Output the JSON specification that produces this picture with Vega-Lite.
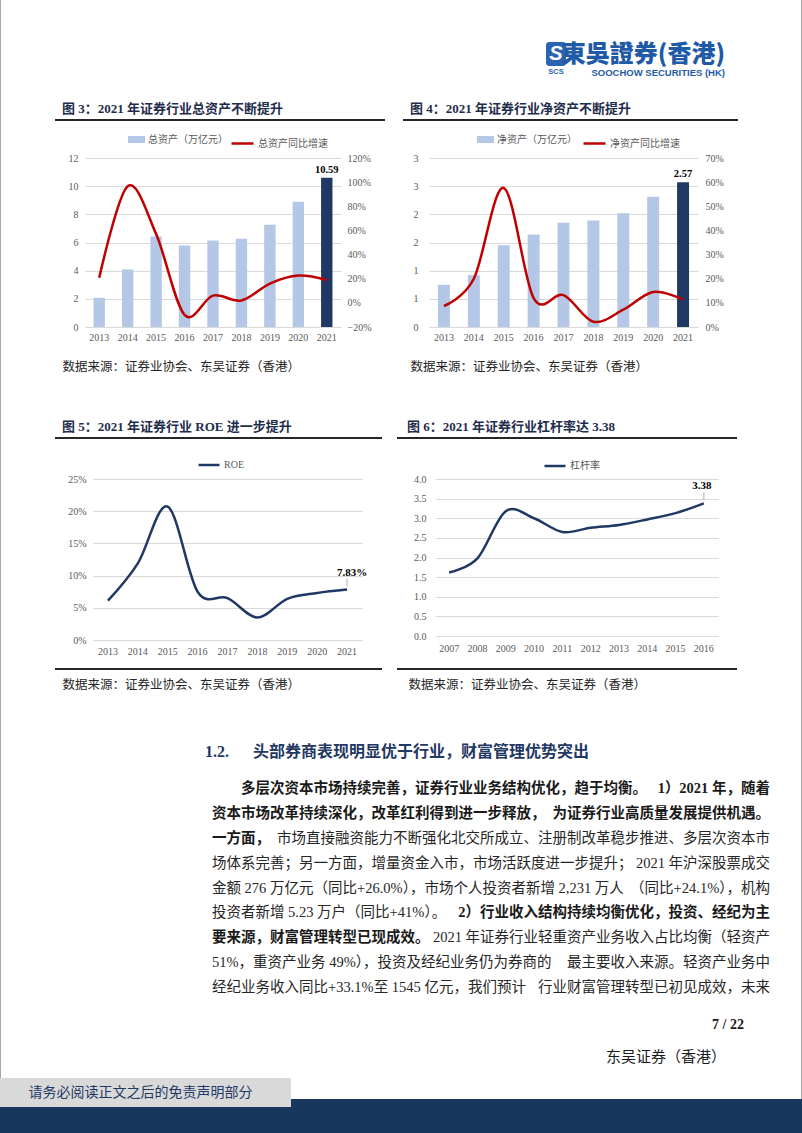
{
  "$schema": "https://vega.github.io/schema/vega-lite/v6.json",
  "background": "white",
  "padding": 0,
  "autosize": {"type": "pad"},
  "bounds": "flush",
  "spacing": 0,
  "resolve": {"scale": {"fill": "independent", "stroke": "independent"}, "legend": {"fill": "independent", "stroke": "independent"}},
  "config": {
    "view": {"stroke": null},
    "font": "Liberation Serif, Noto Sans CJK SC",
    "axis": {"labelFont": "Liberation Serif", "labelFontSize": 10, "labelColor": "#595959", "labelOverlap": false, "ticks": false, "domain": false, "gridColor": "#d9d9d9", "gridWidth": 1, "titleFont": "Liberation Serif, Noto Sans CJK SC", "titleFontWeight": "normal", "titleColor": "#262626", "titleFontSize": 12.5},
    "legend": {"labelFont": "Liberation Serif, Noto Sans CJK SC", "labelFontSize": 10, "labelColor": "#595959", "labelOffset": 3},
    "title": {"font": "Liberation Serif, Noto Sans CJK SC", "fontSize": 13, "fontWeight": "bold", "color": "#1f2d4d", "anchor": "start", "frame": "group"}
  },
  "vconcat": [
    {
      "hconcat": [
        {"width": 1, "height": 1133, "view": {"fill": "#a6a6a6", "stroke": null}, "data": {"values": []}, "mark": "point"},
        {"width": 545, "height": 119, "data": {"values": []}, "mark": "point"},
        {
          "vconcat": [
            {"width": 20, "height": 42, "data": {"values": []}, "mark": "point"},
            {"width": 20, "height": 24, "view": {"fill": "#2b63b0", "cornerRadius": 3, "stroke": null}, "data": {"values": [{"t": "S"}]}, "mark": {"type": "text", "color": "white", "fontSize": 20, "fontWeight": "bold", "fontStyle": "italic", "font": "Liberation Sans"}, "encoding": {"text": {"field": "t"}}, "title": {"text": "SCS", "orient": "bottom", "anchor": "middle", "offset": 2, "fontSize": 7.5, "fontWeight": "bold", "color": "#2b63b0", "font": "Liberation Sans"}}
          ],
          "spacing": 0, "bounds": "flush"
        },
        {"width": 21, "height": 1, "data": {"values": []}, "mark": "point"},
        {"width": 158, "height": 119, "data": {"values": []}, "mark": "point", "title": {"text": "東吳證券(香港)", "subtitle": "SOOCHOW SECURITIES (HK)", "anchor": "end", "orient": "top", "offset": -77, "font": "Noto Sans CJK TC", "fontSize": 24, "fontWeight": 900, "color": "#1f5aa6", "subtitleFont": "Liberation Sans", "subtitleFontSize": 9.5, "subtitleFontWeight": "bold", "subtitleColor": "#1f5aa6", "subtitlePadding": 1}},
        {"width": 76, "height": 1, "data": {"values": []}, "mark": "point"},
        {"width": 1, "height": 1133, "view": {"fill": "#a6a6a6", "stroke": null}, "data": {"values": []}, "mark": "point"}
      ],
      "spacing": 0, "bounds": "flush"
    },
    {"width": 1, "height": 119, "data": {"values": []}, "mark": "point"},
    {
      "hconcat": [
        {"width": 55, "height": 2, "data": {"values": []}, "mark": "point"},
        {"width": 330, "height": 2, "view": {"fill": "#262626", "stroke": null}, "data": {"values": []}, "mark": "point", "title": {"text": "图 3：2021 年证券行业总资产不断提升", "dx": 7, "offset": 3}},
        {"width": 18, "height": 2, "data": {"values": []}, "mark": "point"},
        {"width": 335, "height": 2, "view": {"fill": "#262626", "stroke": null}, "data": {"values": []}, "mark": "point", "title": {"text": "图 4：2021 年证券行业净资产不断提升", "dx": 7, "offset": 3}}
      ],
      "spacing": 0, "bounds": "flush"
    },
    {"width": 1, "height": 39, "data": {"values": []}, "mark": "point"},
    {
      "hconcat": [
        {"width": 85, "height": 1, "data": {"values": []}, "mark": "point"},
        {
          "width": 256, "height": 169,
          "data": {"values": [
            {"year": "2013", "assets": 2.08, "growth": 0.208},
            {"year": "2014", "assets": 4.09, "growth": 0.966},
            {"year": "2015", "assets": 6.42, "growth": 0.57},
            {"year": "2016", "assets": 5.79, "growth": -0.1},
            {"year": "2017", "assets": 6.14, "growth": 0.06},
            {"year": "2018", "assets": 6.26, "growth": 0.02},
            {"year": "2019", "assets": 7.26, "growth": 0.16},
            {"year": "2020", "assets": 8.9, "growth": 0.226},
            {"year": "2021", "assets": 10.59, "growth": 0.19}
          ]},
          "encoding": {
            "x": {"field": "year", "type": "ordinal", "scale": {"paddingInner": 0.6, "paddingOuter": 0.3}, "axis": {"labelAngle": 0, "domain": true, "domainColor": "#d9d9d9", "labelPadding": 5, "title": "数据来源：证券业协会、东吴证券（香港）", "titleX": -23, "titleY": 39, "titleAlign": "left", "titleBaseline": "middle"}}
          },
          "layer": [
            {
              "layer": [
                {"mark": {"type": "bar"}, "encoding": {
                  "y": {"field": "assets", "type": "quantitative", "scale": {"domain": [0, 12]}, "axis": {"values": [0, 2, 4, 6, 8, 10, 12], "tickCount": 7, "grid": true, "labelPadding": 7, "title": null}},
                  "fill": {"condition": {"test": "datum.year === '2021'", "value": "#1f3864"}, "datum": "总资产（万亿元）", "type": "nominal", "scale": {"range": ["#b4c7e7"]}, "legend": {"orient": "none", "legendX": 43, "legendY": -27, "title": null, "symbolType": "M-1,-0.41H1V0.41H-1Z", "symbolSize": 289, "symbolStrokeWidth": 0}}
                }},
                {"transform": [{"filter": "datum.year === '2021'"}], "mark": {"type": "text", "dy": -8, "fontSize": 10.5, "fontWeight": "bold", "color": "#000000", "font": "Liberation Serif"}, "encoding": {
                  "y": {"field": "assets", "type": "quantitative", "scale": {"domain": [0, 12]}, "axis": {"values": [0, 2, 4, 6, 8, 10, 12], "tickCount": 7, "grid": true, "labelPadding": 7, "title": null}},
                  "text": {"field": "assets", "type": "quantitative", "format": ".2f"}
                }}
              ]
            },
            {"mark": {"type": "line", "interpolate": "cardinal", "strokeWidth": 2.5}, "encoding": {
              "y": {"field": "growth", "type": "quantitative", "scale": {"domain": [-0.2, 1.2]}, "axis": {"orient": "right", "format": ".0%", "values": [-0.2, 0, 0.2, 0.4, 0.6, 0.8, 1, 1.2], "grid": false, "labelPadding": 6, "title": null}},
              "stroke": {"datum": "总资产同比增速", "type": "nominal", "scale": {"range": ["#c00000"]}, "legend": {"orient": "none", "legendX": 145, "legendY": -27, "title": null, "symbolType": "stroke", "symbolSize": 484, "symbolStrokeWidth": 2.5}}
            }}
          ],
          "resolve": {"scale": {"y": "independent"}}
        },
        {"width": 88, "height": 1, "data": {"values": []}, "mark": "point"},
        {
          "width": 269, "height": 169,
          "data": {"values": [
            {"year": "2013", "net": 0.75, "growth": 0.087},
            {"year": "2014", "net": 0.92, "growth": 0.2},
            {"year": "2015", "net": 1.45, "growth": 0.576},
            {"year": "2016", "net": 1.64, "growth": 0.12},
            {"year": "2017", "net": 1.85, "growth": 0.132},
            {"year": "2018", "net": 1.89, "growth": 0.022},
            {"year": "2019", "net": 2.02, "growth": 0.072},
            {"year": "2020", "net": 2.31, "growth": 0.145},
            {"year": "2021", "net": 2.57, "growth": 0.114}
          ]},
          "encoding": {
            "x": {"field": "year", "type": "ordinal", "scale": {"paddingInner": 0.6, "paddingOuter": 0.3}, "axis": {"labelAngle": 0, "domain": true, "domainColor": "#d9d9d9", "labelPadding": 5, "title": "数据来源：证券业协会、东吴证券（香港）", "titleX": -19, "titleY": 39, "titleAlign": "left", "titleBaseline": "middle"}}
          },
          "layer": [
            {
              "layer": [
                {"mark": {"type": "bar"}, "encoding": {
                  "y": {"field": "net", "type": "quantitative", "scale": {"domain": [0, 3]}, "axis": {"values": [0, 0.5, 1, 1.5, 2, 2.5, 3], "tickCount": 7, "format": ".0f", "grid": true, "labelPadding": 11, "title": null}},
                  "fill": {"condition": {"test": "datum.year === '2021'", "value": "#1f3864"}, "datum": "净资产（万亿元）", "type": "nominal", "scale": {"range": ["#b4c7e7"]}, "legend": {"orient": "none", "legendX": 48, "legendY": -27, "title": null, "symbolType": "M-1,-0.41H1V0.41H-1Z", "symbolSize": 289, "symbolStrokeWidth": 0}}
                }},
                {"transform": [{"filter": "datum.year === '2021'"}], "mark": {"type": "text", "dy": -8, "fontSize": 10.5, "fontWeight": "bold", "color": "#000000", "font": "Liberation Serif"}, "encoding": {
                  "y": {"field": "net", "type": "quantitative", "scale": {"domain": [0, 3]}, "axis": {"values": [0, 0.5, 1, 1.5, 2, 2.5, 3], "tickCount": 7, "format": ".0f", "grid": true, "labelPadding": 11, "title": null}},
                  "text": {"field": "net", "type": "quantitative", "format": ".2f"}
                }}
              ]
            },
            {"mark": {"type": "line", "interpolate": "cardinal", "strokeWidth": 2.5}, "encoding": {
              "y": {"field": "growth", "type": "quantitative", "scale": {"domain": [0, 0.7]}, "axis": {"orient": "right", "format": ".0%", "values": [0, 0.1, 0.2, 0.3, 0.4, 0.5, 0.6, 0.7], "grid": false, "labelPadding": 7, "title": null}},
              "stroke": {"datum": "净资产同比增速", "type": "nominal", "scale": {"range": ["#c00000"]}, "legend": {"orient": "none", "legendX": 153, "legendY": -27, "title": null, "symbolType": "stroke", "symbolSize": 484, "symbolStrokeWidth": 2.5}}
            }}
          ],
          "resolve": {"scale": {"y": "independent"}}
        }
      ],
      "spacing": 0, "bounds": "flush",
      "resolve": {"scale": {"fill": "independent", "stroke": "independent"}, "legend": {"fill": "independent", "stroke": "independent"}}
    },
    {"width": 1, "height": 279, "data": {"values": []}, "mark": "point"},
    {
      "hconcat": [
        {"width": 55, "height": 2, "data": {"values": []}, "mark": "point"},
        {"width": 327, "height": 2, "view": {"fill": "#262626", "stroke": null}, "data": {"values": []}, "mark": "point", "title": {"text": "图 5：2021 年证券行业 ROE 进一步提升", "dx": 7, "offset": 3}},
        {"width": 15, "height": 2, "data": {"values": []}, "mark": "point"},
        {"width": 340, "height": 2, "view": {"fill": "#262626", "stroke": null}, "data": {"values": []}, "mark": "point", "title": {"text": "图 6：2021 年证券行业杠杆率达 3.38", "dx": 10, "offset": 3}}
      ],
      "spacing": 0, "bounds": "flush"
    },
    {"width": 1, "height": 42, "data": {"values": []}, "mark": "point"},
    {
      "hconcat": [
        {"width": 93, "height": 1, "data": {"values": []}, "mark": "point"},
        {
          "width": 269, "height": 161,
          "data": {"values": [
            {"year": "2013", "roe": 0.061},
            {"year": "2014", "roe": 0.119},
            {"year": "2015", "roe": 0.207},
            {"year": "2016", "roe": 0.075},
            {"year": "2017", "roe": 0.065},
            {"year": "2018", "roe": 0.035},
            {"year": "2019", "roe": 0.064},
            {"year": "2020", "roe": 0.073},
            {"year": "2021", "roe": 0.0783}
          ]},
          "encoding": {
            "x": {"field": "year", "type": "ordinal", "axis": {"labelAngle": 0, "labelPadding": 6, "title": "数据来源：证券业协会、东吴证券（香港）", "titleX": -31, "titleY": 44, "titleAlign": "left", "titleBaseline": "middle"}},
            "y": {"field": "roe", "type": "quantitative", "scale": {"domain": [0, 0.25]}, "axis": {"format": ".0%", "values": [0, 0.05, 0.1, 0.15, 0.2, 0.25], "grid": true, "labelPadding": 7, "title": null}}
          },
          "layer": [
            {"mark": {"type": "line", "interpolate": "cardinal", "strokeWidth": 2.5}, "encoding": {
              "stroke": {"datum": "ROE", "type": "nominal", "scale": {"range": ["#1f3864"]}, "legend": {"orient": "none", "legendX": 104, "legendY": -26, "title": null, "symbolType": "stroke", "symbolSize": 441, "symbolStrokeWidth": 2.5}}
            }},
            {"transform": [{"filter": "datum.year === '2021'"}], "mark": {"type": "tick", "orient": "vertical", "size": 8, "thickness": 1, "color": "#8c8c8c", "yOffset": -7}, "encoding": {}},
            {"transform": [{"filter": "datum.year === '2021'"}], "mark": {"type": "text", "dy": -17, "dx": 5, "fontSize": 11, "fontWeight": "bold", "color": "#000000", "font": "Liberation Serif"}, "encoding": {
              "text": {"field": "roe", "type": "quantitative", "format": ".2%"}
            }}
          ]
        },
        {"width": 73, "height": 1, "data": {"values": []}, "mark": "point"},
        {
          "width": 283, "height": 157,
          "data": {"values": [
            {"year": "2007", "lev": 1.62},
            {"year": "2008", "lev": 1.98},
            {"year": "2009", "lev": 3.18},
            {"year": "2010", "lev": 3.0},
            {"year": "2011", "lev": 2.65},
            {"year": "2012", "lev": 2.76},
            {"year": "2013", "lev": 2.83},
            {"year": "2014", "lev": 2.97},
            {"year": "2015", "lev": 3.13},
            {"year": "2016", "lev": 3.38}
          ]},
          "encoding": {
            "x": {"field": "year", "type": "ordinal", "axis": {"labelAngle": 0, "labelPadding": 7, "title": "数据来源：证券业协会、东吴证券（香港）", "titleX": -27, "titleY": 48, "titleAlign": "left", "titleBaseline": "middle"}},
            "y": {"field": "lev", "type": "quantitative", "scale": {"domain": [0, 4]}, "axis": {"format": ".1f", "values": [0, 0.5, 1, 1.5, 2, 2.5, 3, 3.5, 4], "grid": true, "labelPadding": 9, "title": null}}
          },
          "layer": [
            {"mark": {"type": "line", "interpolate": "cardinal", "strokeWidth": 2.5}, "encoding": {
              "stroke": {"datum": "杠杆率", "type": "nominal", "scale": {"range": ["#1f3864"]}, "legend": {"orient": "none", "legendX": 108, "legendY": -25, "title": null, "symbolType": "stroke", "symbolSize": 441, "symbolStrokeWidth": 2.5}}
            }},
            {"transform": [{"filter": "datum.year === '2016'"}], "mark": {"type": "tick", "orient": "vertical", "size": 8, "thickness": 1, "color": "#8c8c8c", "yOffset": -7}, "encoding": {}},
            {"transform": [{"filter": "datum.year === '2016'"}], "mark": {"type": "text", "dy": -17, "dx": -2, "fontSize": 11, "fontWeight": "bold", "color": "#000000", "font": "Liberation Serif"}, "encoding": {
              "text": {"field": "lev", "type": "quantitative", "format": ".2f"}
            }}
          ]
        }
      ],
      "spacing": 0, "bounds": "flush",
      "resolve": {"scale": {"fill": "independent", "stroke": "independent"}, "legend": {"fill": "independent", "stroke": "independent"}}
    },
    {"width": 1, "height": 189, "data": {"values": []}, "mark": "point"},
    {
      "hconcat": [
        {"width": 55, "height": 2, "data": {"values": []}, "mark": "point"},
        {"width": 327, "height": 2, "view": {"fill": "#262626", "stroke": null}, "data": {"values": []}, "mark": "point"},
        {"width": 15, "height": 2, "data": {"values": []}, "mark": "point"},
        {"width": 340, "height": 2, "view": {"fill": "#262626", "stroke": null}, "data": {"values": []}, "mark": "point"}
      ],
      "spacing": 0, "bounds": "flush"
    },
    {"width": 1, "height": 109, "data": {"values": []}, "mark": "point"},
    {
      "hconcat": [
        {"width": 212, "height": 1, "data": {"values": []}, "mark": "point"},
        {
          "width": 558, "height": 223,
          "title": {"text": "1.2.\u3000\u2002头部券商表现明显优于行业，财富管理优势突出", "dx": -7, "offset": 17, "fontSize": 16, "fontWeight": "bold", "color": "#1f3864"},
          "data": {"values": [
            {"line": 1, "seg": "lead", "bold": true, "text": "\u200b\u3000\u3000多层次资本市场持续完善，证券行业业务结构优化，趋于均衡。"},
            {"line": 1, "seg": "tail", "bold": true, "text": "1）2021 年，随着"},
            {"line": 2, "seg": "lead", "bold": true, "text": "资本市场改革持续深化，改革红利得到进一步释放，"},
            {"line": 2, "seg": "tail", "bold": true, "text": "为证券行业高质量发展提供机遇。"},
            {"line": 3, "seg": "lead", "bold": true, "text": "一方面，"},
            {"line": 3, "seg": "tail", "bold": false, "text": "市场直接融资能力不断强化北交所成立、注册制改革稳步推进、多层次资本市"},
            {"line": 4, "seg": "lead", "bold": false, "text": "场体系完善；另一方面，增量资金入市，市场活跃度进一步提升；"},
            {"line": 4, "seg": "tail", "bold": false, "text": "2021 年沪深股票成交"},
            {"line": 5, "seg": "lead", "bold": false, "text": "金额 276 万亿元（同比+26.0%），市场个人投资者新增 2,231 万人"},
            {"line": 5, "seg": "tail", "bold": false, "text": "（同比+24.1%），机构"},
            {"line": 6, "seg": "lead", "bold": false, "text": "投资者新增 5.23 万户（同比+41%）。"},
            {"line": 6, "seg": "tail", "bold": true, "text": "2）行业收入结构持续均衡优化，投资、经纪为主"},
            {"line": 7, "seg": "lead", "bold": true, "text": "要来源，财富管理转型已现成效。"},
            {"line": 7, "seg": "tail", "bold": false, "text": "2021 年证券行业轻重资产业务收入占比均衡（轻资产"},
            {"line": 8, "seg": "lead", "bold": false, "text": "51%，重资产业务 49%），投资及经纪业务仍为券商的"},
            {"line": 8, "seg": "tail", "bold": false, "text": "最主要收入来源。轻资产业务中"},
            {"line": 9, "seg": "lead", "bold": false, "text": "经纪业务收入同比+33.1%至 1545 亿元，我们预计"},
            {"line": 9, "seg": "tail", "bold": false, "text": "行业财富管理转型已初见成效，未来"}
          ]},
          "encoding": {
            "y": {"field": "line", "type": "ordinal", "axis": null},
            "x": {"field": "seg", "type": "nominal", "axis": null, "scale": {"type": "point", "padding": 0, "domain": ["lead", "tail"]}},
            "text": {"field": "text"}
          },
          "layer": [
            {"transform": [{"filter": "datum.seg === 'lead' && datum.bold"}], "mark": {"type": "text", "align": "left", "fontSize": 14.5, "fontWeight": "bold", "color": "#1a1a1a"}},
            {"transform": [{"filter": "datum.seg === 'lead' && !datum.bold"}], "mark": {"type": "text", "align": "left", "fontSize": 14.5, "color": "#262626"}},
            {"transform": [{"filter": "datum.seg === 'tail' && datum.bold"}], "mark": {"type": "text", "align": "right", "fontSize": 14.5, "fontWeight": "bold", "color": "#1a1a1a"}},
            {"transform": [{"filter": "datum.seg === 'tail' && !datum.bold"}], "mark": {"type": "text", "align": "right", "fontSize": 14.5, "color": "#262626"}}
          ]
        }
      ],
      "spacing": 0, "bounds": "flush"
    },
    {"width": 1, "height": 256, "data": {"values": []}, "mark": "point"},
    {"width": 744, "height": 32, "data": {"values": []}, "mark": "point", "title": {"text": "7 / 22", "anchor": "end", "offset": 1, "fontSize": 14, "fontWeight": "bold", "color": "#1a1a1a", "font": "Liberation Serif"}},
    {"width": 726, "height": 13, "data": {"values": []}, "mark": "point", "title": {"text": "东吴证券（香港）", "anchor": "end", "offset": 0, "fontSize": 15, "fontWeight": "normal", "color": "#1a1a1a"}},
    {
      "hconcat": [
        {"width": 291, "height": 29, "view": {"fill": "#d9d9d9", "stroke": null}, "data": {"values": [{"t": "请务必阅读正文之后的免责声明部分"}]}, "mark": {"type": "text", "dx": -5, "fontSize": 14, "color": "#1f3864", "font": "Noto Sans CJK SC"}, "encoding": {"text": {"field": "t"}}},
        {
          "vconcat": [
            {"width": 511, "height": 21, "data": {"values": []}, "mark": "point"},
            {"width": 511, "height": 8, "view": {"fill": "#17375e", "stroke": null}, "data": {"values": []}, "mark": "point"}
          ],
          "spacing": 0, "bounds": "flush"
        }
      ],
      "spacing": 0, "bounds": "flush"
    },
    {"width": 1, "height": 29, "data": {"values": []}, "mark": "point"},
    {"width": 802, "height": 26, "view": {"fill": "#17375e", "stroke": null}, "data": {"values": []}, "mark": "point"}
  ]
}
